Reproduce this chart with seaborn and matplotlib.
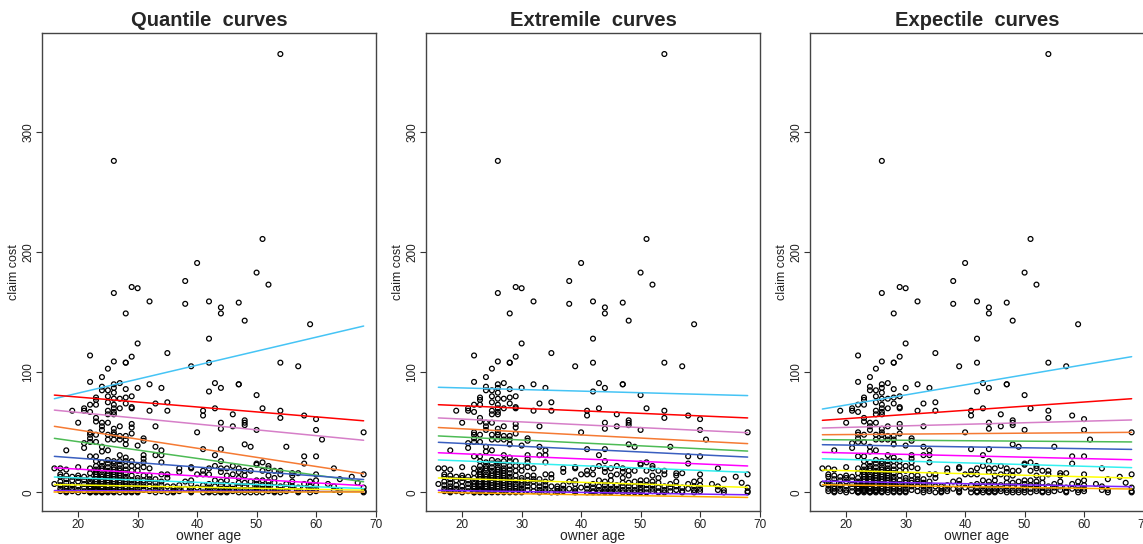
import numpy as np
import pandas as pd
import seaborn as sns
import matplotlib.pyplot as plt

claims_by_age = {
    16: [20, 7],
    17: [20, 15, 13, 9, 6, 3, 1],
    18: [35, 19, 14, 11, 8, 5, 3, 1, 0],
    19: [68, 13, 10, 6, 3, 1],
    20: [58, 21, 14, 12, 9, 5, 2, 0],
    21: [70, 68, 41, 37, 13, 10, 7, 4, 1],
    22: [114, 92, 73, 67, 50, 48, 45, 42, 30, 20, 16, 12, 9, 7, 5, 3, 1, 0, 0],
    23: [79, 77, 73, 62, 59, 48, 42, 30, 26, 22, 19, 17, 15, 13, 11, 9, 7, 5, 3, 2, 1, 0],
    24: [96, 88, 85, 58, 55, 52, 38, 34, 25, 22, 20, 18, 15, 13, 11, 9, 7, 5, 3, 1, 0, 0],
    25: [103, 85, 80, 75, 68, 65, 58, 48, 44, 35, 27, 24, 21, 18, 16, 14, 12, 10, 8, 6, 4, 2, 1, 0],
    26: [276, 166, 109, 90, 87, 83, 78, 73, 70, 67, 65, 53, 50, 48, 44, 26, 24, 21, 19, 17, 15, 13,
         11, 9, 7, 5, 3, 1, 0],
    27: [91, 78, 70, 55, 47, 44, 31, 26, 23, 20, 18, 16, 14, 12, 10, 8, 6, 4, 2, 0],
    28: [149, 108, 108, 86, 79, 74, 47, 44, 40, 29, 26, 22, 19, 16, 13, 11, 9, 7, 5, 3, 1, 0],
    29: [171, 113, 80, 71, 70, 57, 54, 49, 26, 22, 18, 14, 10, 7, 5, 3, 1, 0],
    30: [170, 124, 87, 39, 22, 18, 12, 10, 8, 6, 3, 1, 0],
    31: [45, 43, 31, 28, 25, 21, 14, 10, 8, 5, 2],
    32: [159, 90, 68, 20, 14, 11, 9, 5, 1],
    33: [74, 55, 38, 31, 11, 8, 5, 2, 0],
    34: [87, 35, 31, 25, 15, 9, 6, 3, 1],
    35: [116, 75, 68, 15, 12, 5, 0],
    36: [5, 3, 1, 0],
    37: [20, 17, 6, 3, 1],
    38: [176, 157, 9, 3],
    39: [105, 21, 20, 10, 7, 3, 1, 0],
    40: [191, 50, 15, 4],
    41: [68, 64, 36, 18, 15, 6, 3, 0],
    42: [159, 128, 108, 84, 20, 15, 7, 4, 1, 0],
    43: [91, 70, 31, 22, 10, 5, 2, 0],
    44: [154, 149, 87, 58, 53, 36, 26, 20, 17, 9, 6, 3, 1, 0],
    45: [20, 14, 10, 6, 3, 1, 0],
    46: [65, 55, 22, 15, 6, 3, 1],
    47: [158, 90, 90, 20, 17, 12, 8, 5, 2, 0],
    48: [143, 60, 58, 56, 40, 18, 14, 8, 5, 2, 0],
    49: [38, 18, 9, 5, 2, 0],
    50: [183, 81, 52, 24, 23, 10, 7, 4, 2, 0],
    51: [211, 70, 25, 18, 10, 6, 3, 0],
    52: [173, 22, 20, 14, 9, 6, 3, 1],
    53: [18, 12, 8, 4, 1, 0],
    54: [365, 108, 68, 62, 18, 15, 5, 2, 0],
    55: [38, 7, 4, 1],
    56: [16, 14, 9, 5, 2],
    57: [105, 16, 4, 1, 0],
    58: [64, 30, 24, 7, 3],
    59: [140, 9, 5, 2, 0],
    60: [61, 52, 30, 15, 10, 6, 3, 1],
    61: [44],
    62: [7],
    63: [20, 5, 2],
    64: [11, 2, 0],
    66: [13],
    67: [8],
    68: [50, 15, 4, 1, 0],
}

line_colors = ["#45c4f5", "#ff0000", "#d67fc8", "#f57a33", "#4dbb55", "#3a5fc0",
               "#ff00ff", "#33f0f0", "#ffff00", "#7f22ff", "#ffa500"]

age_ends = [16, 68]

# fitted curve values at age 16 and age 68, one pair per colour
quantile_start = [78, 81, 68.5, 55, 45, 30, 20.5, 12.8, 6.5, 1.5, 0.2]
quantile_end = [138.5, 59.6, 43.4, 15.5, 8.8, 10.7, 5.6, 3.2, 1.8, 0.6, 0.2]

extremile_start = [87.5, 73, 62, 54, 47, 41.7, 33, 27, 12, 1.7, 0]
extremile_end = [80.6, 62, 49.7, 40.6, 34.4, 29.4, 22, 16.7, 4.2, -2, -4.2]

expectile_start = [69.4, 60, 53.6, 48, 43.9, 39.7, 33.3, 28, 18.6, 9.4, 6.4]
expectile_end = [113, 78, 60.3, 50, 42, 35.8, 27.2, 20.6, 12, 4.7, 2.8]

titles = ["Quantile  curves", "Extremile  curves", "Expectile  curves"]
panel_starts = [quantile_start, extremile_start, expectile_start]
panel_ends = [quantile_end, extremile_end, expectile_end]

points = pd.DataFrame(
    [(age, cost) for age, costs in claims_by_age.items() for cost in costs],
    columns=["owner age", "claim cost"],
)

sns.set_theme(style="ticks")
plt.rcParams["font.family"] = ["Liberation Sans", "DejaVu Sans"]

W, H = 1143, 544
fig = plt.figure(figsize=(W / 100, H / 100), dpi=100)

for i in range(3):
    left = 42 + 384 * i
    ax = fig.add_axes([left / W, (H - 511) / H, 334 / W, 478 / H])

    for k, col in enumerate(line_colors):
        seg = pd.DataFrame({"x": age_ends, "y": [panel_starts[i][k], panel_ends[i][k]]})
        sns.lineplot(data=seg, x="x", y="y", color=col, lw=1.1, ax=ax, zorder=3)

    sns.scatterplot(data=points, x="owner age", y="claim cost", ax=ax,
                    marker="o", s=12, facecolor="none", edgecolor="black",
                    linewidth=0.9, zorder=2)

    ax.set_xlim(13.92, 70.08)
    ax.set_ylim(-15.5, 382.5)
    ax.set_xticks([20, 30, 40, 50, 60, 70])
    ax.set_yticks([0, 100, 200, 300])
    ax.tick_params(axis="both", labelsize=8.5, length=4, width=0.8,
                   colors="#333333", labelcolor="#222222", pad=1.5)
    for lab in ax.get_yticklabels():
        lab.set_rotation(90)
        lab.set_va("center")
    for sp in ax.spines.values():
        sp.set_color("#444444")
        sp.set_linewidth(1.0)
    ax.set_xlabel("owner age", fontsize=10, labelpad=-1, color="#222222")
    ax.set_ylabel("claim cost", fontsize=9, labelpad=2, color="#222222")
    ax.set_title(titles[i], fontsize=14.5, fontweight="bold", pad=5)

fig.savefig("out.png", dpi=100)
